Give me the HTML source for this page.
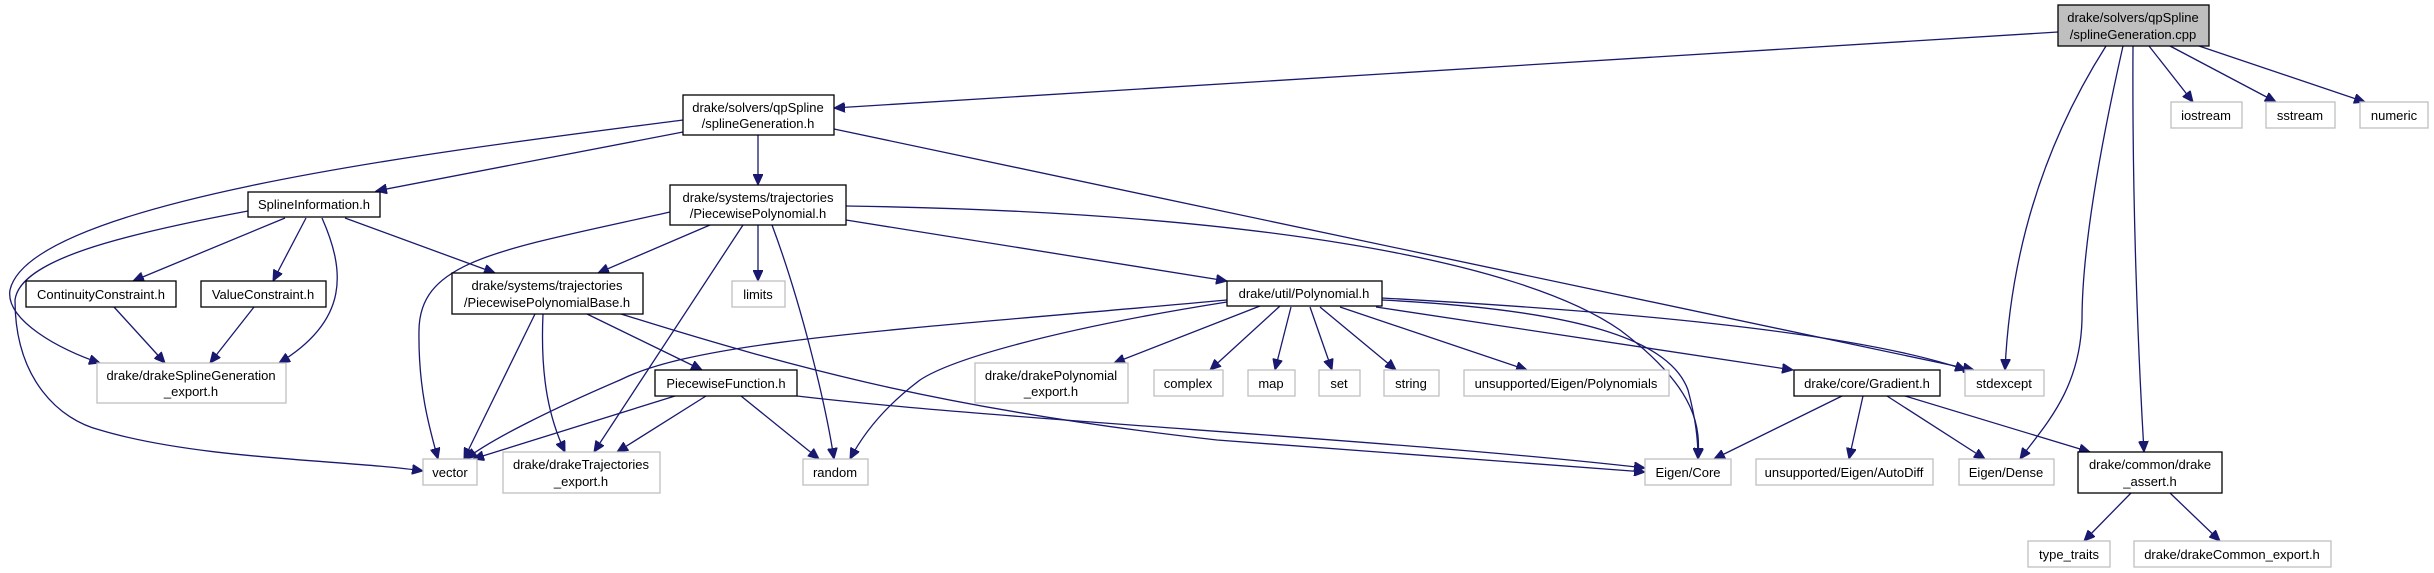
<!DOCTYPE html>
<html><head><meta charset="utf-8"><style>
html,body{margin:0;padding:0;background:#fff;}
svg{display:block;}
text{font-family:"Liberation Sans",sans-serif;font-size:13px;fill:#000;text-anchor:middle;}
.e{fill:none;stroke:#191970;stroke-width:1.3;marker-end:url(#a);}
.n{fill:#fff;stroke:#000;stroke-width:1.3;}
.x{fill:#fff;stroke:#bfbfbf;stroke-width:1.3;}
</style></head><body>
<svg width="2434" height="573" viewBox="0 0 2434 573" xmlns="http://www.w3.org/2000/svg">
<defs><marker id="a" markerUnits="userSpaceOnUse" markerWidth="12" markerHeight="10" refX="11" refY="5" orient="auto"><path d="M0,0 L11,5 L0,10 z" fill="#191970" stroke="#191970"/></marker></defs>
<path class="e" d="M2058,32 L834,108"/>
<path class="e" d="M2106,46 C2040,150 2010,260 2005,370"/>
<path class="e" d="M2123,46 C2095,170 2082,260 2082,320 C2080,390 2045,425 2020,459"/>
<path class="e" d="M2133,46 C2132,200 2138,350 2144,452"/>
<path class="e" d="M2149,46 L2193,102"/>
<path class="e" d="M2170,46 L2276,102"/>
<path class="e" d="M2199,46 L2365,102"/>
<path class="e" d="M683,132 L376,191"/>
<path class="e" d="M758,135 L758,185"/>
<path class="e" d="M834,129 L1974,370"/>
<path class="e" d="M683,120 C450,150 30,200 10,290 C5,320 60,350 100,363"/>
<path class="e" d="M285,218 L133,281"/>
<path class="e" d="M306,218 L273,281"/>
<path class="e" d="M322,218 C345,270 350,320 279,363"/>
<path class="e" d="M345,218 L495,273"/>
<path class="e" d="M248,211 C120,235 20,260 15,300 C15,380 60,420 100,430 C200,460 350,460 423,471"/>
<path class="e" d="M114,307 L165,363"/>
<path class="e" d="M254,307 L210,363"/>
<path class="e" d="M710,225 L598,273"/>
<path class="e" d="M743,225 L594,452"/>
<path class="e" d="M758,225 L758,281"/>
<path class="e" d="M772,225 C800,300 825,400 834,459"/>
<path class="e" d="M670,212 C500,250 420,260 419,330 C418,390 430,430 438,459"/>
<path class="e" d="M846,220 L1227,281"/>
<path class="e" d="M846,206 C1250,212 1520,260 1620,330 C1700,390 1700,430 1698,459"/>
<path class="e" d="M587,314 L702,370"/>
<path class="e" d="M535,314 L464,459"/>
<path class="e" d="M543,314 C540,380 550,420 565,452"/>
<path class="e" d="M621,314 C800,370 950,410 1217,440 L1645,472"/>
<path class="e" d="M675,396 L473,459"/>
<path class="e" d="M706,396 L617,452"/>
<path class="e" d="M741,396 L819,459"/>
<path class="e" d="M797,396 C1000,420 1400,440 1645,468"/>
<path class="e" d="M1227,300 C900,330 700,340 620,380 C550,410 490,440 466,459"/>
<path class="e" d="M1227,302 C1050,330 950,360 920,380 C880,410 860,440 850,459"/>
<path class="e" d="M1260,306 L1114,363"/>
<path class="e" d="M1280,306 L1210,370"/>
<path class="e" d="M1291,307 L1275,370"/>
<path class="e" d="M1310,307 L1332,370"/>
<path class="e" d="M1320,307 L1396,370"/>
<path class="e" d="M1340,307 L1527,370"/>
<path class="e" d="M1376,307 L1793,370"/>
<path class="e" d="M1382,298 C1600,310 1850,330 1966,370"/>
<path class="e" d="M1382,300 C1580,310 1670,340 1688,390 C1696,420 1698,440 1698,459"/>
<path class="e" d="M1842,396 L1714,459"/>
<path class="e" d="M1863,396 L1849,459"/>
<path class="e" d="M1887,396 L1985,459"/>
<path class="e" d="M1905,396 L2090,452"/>
<path class="e" d="M2131,493 L2084,541"/>
<path class="e" d="M2170,493 L2220,541"/>
<rect x="2058" y="5" width="151" height="41" fill="#bfbfbf" stroke="#000" stroke-width="1.3"/>
<text x="2133" y="22">drake/solvers/qpSpline</text><text x="2133" y="39">/splineGeneration.cpp</text>
<rect class="x" x="2171" y="102" width="71" height="26"/><text x="2206" y="120">iostream</text>
<rect class="x" x="2266" y="102" width="69" height="26"/><text x="2300" y="120">sstream</text>
<rect class="x" x="2360" y="102" width="68" height="26"/><text x="2394" y="120">numeric</text>
<rect class="n" x="683" y="95" width="151" height="40"/>
<text x="758" y="112">drake/solvers/qpSpline</text><text x="758" y="128">/splineGeneration.h</text>
<rect class="n" x="248" y="192" width="132" height="25"/><text x="314" y="209">SplineInformation.h</text>
<rect class="n" x="670" y="185" width="176" height="40"/>
<text x="758" y="202">drake/systems/trajectories</text><text x="758" y="218">/PiecewisePolynomial.h</text>
<rect class="n" x="26" y="281" width="150" height="26"/><text x="101" y="299">ContinuityConstraint.h</text>
<rect class="n" x="201" y="281" width="125" height="26"/><text x="263" y="299">ValueConstraint.h</text>
<rect class="n" x="452" y="273" width="191" height="41"/>
<text x="547" y="290">drake/systems/trajectories</text><text x="547" y="307">/PiecewisePolynomialBase.h</text>
<rect class="x" x="732" y="281" width="53" height="26"/><text x="758" y="299">limits</text>
<rect class="n" x="1227" y="281" width="155" height="25"/><text x="1304" y="298">drake/util/Polynomial.h</text>
<rect class="x" x="97" y="363" width="189" height="40"/>
<text x="191" y="380">drake/drakeSplineGeneration</text><text x="191" y="396">_export.h</text>
<rect class="n" x="655" y="370" width="142" height="26"/><text x="726" y="388">PiecewiseFunction.h</text>
<rect class="x" x="975" y="363" width="153" height="40"/>
<text x="1051" y="380">drake/drakePolynomial</text><text x="1051" y="396">_export.h</text>
<rect class="x" x="1154" y="370" width="69" height="26"/><text x="1188" y="388">complex</text>
<rect class="x" x="1248" y="370" width="47" height="26"/><text x="1271" y="388">map</text>
<rect class="x" x="1319" y="370" width="41" height="26"/><text x="1339" y="388">set</text>
<rect class="x" x="1384" y="370" width="55" height="26"/><text x="1411" y="388">string</text>
<rect class="x" x="1464" y="370" width="205" height="26"/><text x="1566" y="388">unsupported/Eigen/Polynomials</text>
<rect class="n" x="1794" y="370" width="146" height="26"/><text x="1867" y="388">drake/core/Gradient.h</text>
<rect class="x" x="1965" y="370" width="79" height="26"/><text x="2004" y="388">stdexcept</text>
<rect class="x" x="423" y="459" width="54" height="26"/><text x="450" y="477">vector</text>
<rect class="x" x="503" y="452" width="157" height="41"/>
<text x="581" y="469">drake/drakeTrajectories</text><text x="581" y="486">_export.h</text>
<rect class="x" x="803" y="459" width="65" height="26"/><text x="835" y="477">random</text>
<rect class="x" x="1645" y="459" width="86" height="26"/><text x="1688" y="477">Eigen/Core</text>
<rect class="x" x="1756" y="459" width="177" height="26"/><text x="1844" y="477">unsupported/Eigen/AutoDiff</text>
<rect class="x" x="1959" y="459" width="95" height="26"/><text x="2006" y="477">Eigen/Dense</text>
<rect class="n" x="2078" y="452" width="144" height="41"/>
<text x="2150" y="469">drake/common/drake</text><text x="2150" y="486">_assert.h</text>
<rect class="x" x="2028" y="541" width="82" height="26"/><text x="2069" y="559">type_traits</text>
<rect class="x" x="2134" y="541" width="197" height="26"/><text x="2232" y="559">drake/drakeCommon_export.h</text>
</svg>
</body></html>
